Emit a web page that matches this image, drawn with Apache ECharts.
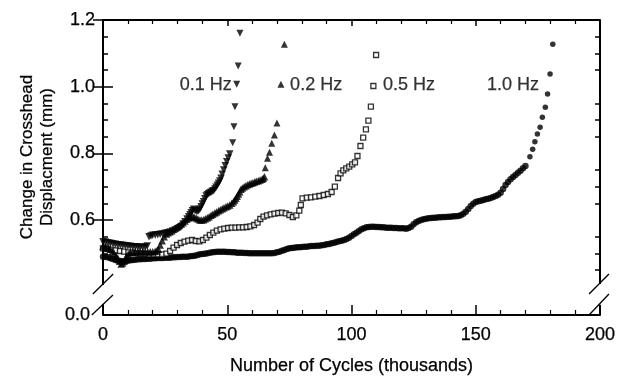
<!DOCTYPE html>
<html><head><meta charset="utf-8">
<script src="https://cdn.jsdelivr.net/npm/echarts@6/dist/echarts.min.js"></script>
<style>html,body{margin:0;padding:0;background:#fff}#c{width:627px;height:378px}</style>
</head><body><div id="c"></div>
<script>
const FONT = "'Liberation Sans', Arial, Helvetica, sans-serif";

// ---- data (x: thousands of cycles, y: change in crosshead displacement, mm) ----
const hz01 = [[0,0.535],[1,0.534],[2,0.532],[3,0.53],[4,0.529],[5,0.527],[6,0.526],[7,0.525],[8,0.524],[9,0.523],[10,0.522],[11,0.521],[12,0.52],[13,0.52],[14,0.519],[15,0.518],[16,0.518],[17,0.519],[17.8,0.522],
  [18.5,0.55],[19.3,0.552],[20,0.554],[21,0.555],[22,0.556],[23,0.557],[24,0.558],[25,0.56],[26,0.562],[27,0.564],[28,0.567],[29,0.57],[30,0.574],[30.8,0.577],[31.5,0.58],[32.3,0.588],[33,0.595],[33.8,0.603],[34.5,0.61],[35,0.616],[35.5,0.622],[36,0.628],[36.5,0.632],[37,0.629],[37.5,0.626],[38,0.627],[38.5,0.628],[39,0.633],[39.5,0.64],[40,0.648],[40.5,0.655],[41,0.664],[41.5,0.672],[42,0.676],[42.5,0.679],[43,0.681],[43.5,0.683],[44,0.686],[44.5,0.688],[45,0.693],[45.5,0.698],[46,0.704],[46.5,0.71],[47,0.717],[47.5,0.725],[48,0.737],[48.6,0.75],[49.2,0.763],[49.8,0.775],[50.4,0.786],[51,0.798],
  [52.2,0.832],[52.7,0.88],[53.1,0.94],[53.8,1.007],[54.4,1.062],[55.1,1.16]];
const hz02 = [[0,0.522],[0.8,0.52],[1.5,0.518],[2.3,0.515],[3,0.512],[3.8,0.506],[4.5,0.5],[5.3,0.492],[6,0.485],[6.7,0.476],[7.3,0.468],[7.9,0.471],[8.5,0.476],[9,0.484],[9.5,0.492],[10.2,0.498],[11,0.502],[12,0.504],[13,0.505],[14,0.505],[15,0.505],[16,0.505],[17,0.505],[18,0.505],[19,0.505],[20,0.505],[21,0.506],[21.7,0.508],[22.3,0.512],[23,0.525],[23.8,0.538],[24.6,0.55],[25.5,0.558],[26.2,0.562],[27,0.565],[27.7,0.568],[28.5,0.572],[29.2,0.576],[30,0.58],[30.7,0.584],[31.5,0.588],[32.2,0.592],[33,0.597],[33.7,0.602],[34.5,0.606],[35.2,0.609],[36,0.612],[36.7,0.609],[37.5,0.606],[38.2,0.603],[39,0.6],[39.7,0.6],[40.5,0.601],[41.2,0.604],[42,0.607],[42.7,0.61],[43.5,0.614],[44.2,0.617],[45,0.621],[45.7,0.624],[46.5,0.628],[47.2,0.631],[48,0.634],[48.7,0.637],[49.5,0.64],[50.2,0.642],[51,0.645],[51.8,0.65],[52.5,0.655],[53,0.66],[53.5,0.665],[54,0.671],[54.5,0.678],[55,0.685],[55.5,0.692],[56.1,0.696],[56.8,0.7],[57.5,0.703],[58.2,0.706],[58.9,0.708],[59.6,0.71],[60.3,0.712],[61,0.714],[61.7,0.716],[62.5,0.718],[63.2,0.72],[64,0.722],[64.5,0.725],[65,0.73],
  [65.3,0.757],[66.2,0.785],[67,0.803],[67.9,0.83],[69,0.855],[70,0.891],[71.6,1.007],[73,1.127]];
const hz05 = [[0,0.515],[1.7,0.513],[3.4,0.511],[5.1,0.509],[6.8,0.507],[8.5,0.505],[10.2,0.503],[11.9,0.502],[13.6,0.5],[15.3,0.499],[17,0.498],[18.7,0.497],[20.4,0.497],[22.1,0.497],[23.8,0.497],[25.5,0.499],[27,0.507],[28.4,0.517],[29.8,0.525],[31.3,0.531],[32.8,0.535],[34.3,0.538],[35.8,0.54],[37.3,0.537],[38.8,0.536],[40.2,0.54],[41.6,0.547],[43,0.555],[44.4,0.562],[45.8,0.568],[47.3,0.572],[48.8,0.574],[50.3,0.576],[51.8,0.577],[53.3,0.577],[54.8,0.578],[56.3,0.578],[57.8,0.579],[59.3,0.581],[60.8,0.585],[62.2,0.592],[63.3,0.603],[64.6,0.61],[66,0.614],[67.5,0.617],[69,0.619],[70.5,0.621],[72,0.622],[73.5,0.62],[75,0.615],[76.4,0.609],[77.8,0.614],[79,0.628],[79.6,0.645],[80.3,0.665],[82,0.667],[83.7,0.668],[85.4,0.67],[87.1,0.672],[88.8,0.675],[90.5,0.678],[92,0.684],[93.3,0.7],[94.6,0.726],[95.6,0.74],[96.7,0.749],[97.9,0.755],[99.1,0.76],[100.3,0.767],[101.4,0.773],[102.4,0.792],[103.6,0.822],[104.7,0.847],[105.8,0.872],[106.8,0.898],[107.8,0.94],[108.8,1.002],[109.9,1.095]];
const hz10 = [[0,0.49],[1,0.489],[2,0.488],[3,0.485],[4,0.483],[5,0.48],[6,0.478],[7,0.477],[8,0.476],[9,0.477],[10,0.478],[11,0.479],[12,0.48],[13,0.481],[14,0.482],[15,0.482],[16,0.483],[17,0.483],[18,0.484],[19,0.484],[20,0.485],[21,0.485],[22,0.486],[23,0.486],[24,0.486],[25,0.487],[26,0.487],[27,0.487],[28,0.488],[29,0.488],[30,0.489],[31,0.489],[32,0.49],[33,0.49],[34,0.49],[35,0.491],[36,0.492],[37,0.493],[38,0.495],[39,0.497],[40,0.498],[41,0.499],[42,0.5],[43,0.502],[44,0.503],[45,0.504],[46,0.505],[47,0.505],[48,0.505],[49,0.505],[50,0.504],[51,0.504],[52,0.503],[53,0.503],[54,0.502],[55,0.502],[56,0.502],[57,0.501],[58,0.501],[59,0.5],[60,0.5],[61,0.5],[62,0.5],[63,0.5],[64,0.5],[65,0.5],[66,0.5],[67,0.5],[68,0.5],[69,0.501],[70,0.503],[71,0.505],[72,0.508],[73,0.51],[74,0.513],[75,0.515],[76,0.516],[77,0.517],[78,0.518],[79,0.518],[80,0.519],[81,0.52],[82,0.52],[83,0.521],[84,0.522],[85,0.522],[86,0.523],[87,0.523],[88,0.524],[89,0.525],[90,0.527],[91,0.528],[92,0.53],[93,0.532],[94,0.534],[95,0.536],[96,0.538],[97,0.54],[98,0.543],[99,0.547],[100,0.552],[101,0.557],[102,0.562],[103,0.567],[104,0.572],[105,0.575],[106,0.578],[107,0.579],[108,0.58],[109,0.58],[110,0.579],[111,0.579],[112,0.578],[113,0.578],[114,0.577],[115,0.577],[116,0.577],[117,0.576],[118,0.576],[119,0.575],[120,0.575],[121,0.575],[122,0.574],[123,0.576],[124,0.58],[125,0.587],[126,0.593],[127,0.597],[128,0.6],[129,0.602],[130,0.604],[131,0.605],[132,0.606],[133,0.607],[134,0.607],[135,0.608],[136,0.608],[137,0.609],[138,0.609],[139,0.61],[140,0.61],[141,0.611],[142,0.611],[143,0.612],[144,0.614],[145,0.619],[146,0.625],[147,0.633],[148,0.642],[149,0.649],[150,0.654],[151,0.656],[152,0.658],[153,0.66],[154,0.662],[155,0.664],[156,0.666],[157,0.669],[158,0.672],[159,0.676],[160,0.682],[161,0.693],[162,0.705],[163,0.714],[164,0.722],[165,0.729],[166,0.735],[167,0.742],[168,0.748],[169,0.755],[170,0.762],
  [171.8,0.79],[172.9,0.812],[173.8,0.835],[174.8,0.858],[175.9,0.878],[176.8,0.908],[178,0.938],[178.9,0.978],[179.9,1.038],[181,1.127]];

const annotLabels = ['0.1 Hz','0.2 Hz','0.5 Hz','1.0 Hz'];
const annotX = [51.8, 75.3, 112.7, 175.5];
const annotY = [1.005, 1.005, 1.005, 1.005];
const annotSide = ['left','right','right','left'];

const xMin = 0, xMax = 200, xInterval = 50;
const yMin = 0.315, yMax = 1.2;           // broken axis: bottom edge stands for 0.0
const yLabelValues = [0.315, 0.6, 0.8, 1.0, 1.2];
const yMajorTicks = [0.6, 0.8, 1.0, 1.2];
const yMinorTicks = [0.45,0.5,0.55,0.65,0.7,0.75,0.85,0.9,0.95,1.05,1.1,1.15];

const chart = echarts.init(document.getElementById('c'), null, {renderer:'canvas'});
const black = '#000';
const txt = {color:black, fontSize:18, fontFamily:FONT, textBorderColor:black, textBorderWidth:0.25};
function yAx(pos, ticks, len, labels) {
  return {
    type:'value', min:yMin, max:yMax, position:pos,
    axisLine:{show:false}, splitLine:{show:false},
    axisTick:{show:true, inside:true, length:len, customValues:ticks, lineStyle:{color:black, width:1.5}},
    axisLabel: labels ? Object.assign({show:true, customValues:yLabelValues, margin:8,
      formatter: v => v < 0.4 ? '{z|0.0}' : v.toFixed(1),
      rich:{z:Object.assign({padding:[0,5,0,0]}, txt)}}, txt) : {show:false}
  };
}
function xAx(pos, len, mlen, labels) {
  return {
    type:'value', min:xMin, max:xMax, interval:xInterval, position:pos,
    axisLine:{show:true, onZero:false, lineStyle:{color:black, width:2}},
    splitLine:{show:false},
    axisTick:{show:true, inside:true, length:len, lineStyle:{color:black, width:1.5}},
    minorTick:{show:true, splitNumber:5, length:mlen, lineStyle:{color:black, width:1.2}},
    axisLabel: labels ? Object.assign({show:true, margin:11}, txt) : {show:false},
    name: labels ? 'Number of Cycles (thousands)' : '',
    nameLocation:'middle', nameGap:42,
    nameTextStyle: txt
  };
}
const annotData = annotLabels.map((t,i)=>({value:[annotX[i], annotY[i]], name:t,
  label:Object.assign({show:true, position:annotSide[i], distance:0, formatter:t}, txt)}));

// marker size: slightly larger where the record is dense (merged band), smaller for the sparse tail
const sizeBy = (limit, dense, sparse) => (v => v[0] <= limit ? dense : sparse);

chart.setOption({
  animation:false,
  backgroundColor:'#fff',
  grid:{left:103, right:27, top:20, bottom:63, outerBoundsMode:'none'},
  xAxis:[xAx('bottom',10,5,true), xAx('top',6,4,false)],
  yAxis:[yAx('left',yMajorTicks,10,true), yAx('right',yMajorTicks,10,false),
         yAx('left',yMinorTicks,5,false), yAx('right',yMinorTicks,5,false)],
  series:[
    {name:'1.0 Hz', type:'scatter', data:hz10, symbol:'circle', symbolSize:sizeBy(170.5,6.5,5.5), itemStyle:{color:black}},
    {name:'0.5 Hz', type:'scatter', data:hz05, symbol:'rect', symbolSize:5, itemStyle:{color:'#fff', borderColor:black, borderWidth:1.3}},
    {name:'0.2 Hz', type:'scatter', data:hz02, symbol:'triangle', symbolSize:sizeBy(65.1,7.5,7), itemStyle:{color:black}},
    {name:'0.1 Hz', type:'scatter', data:hz01, symbol:'triangle', symbolRotate:180, symbolSize:sizeBy(51.5,7.5,7), itemStyle:{color:black}},
    {name:'labels', type:'scatter', data:annotData, symbolSize:0, silent:true}
  ]
});

// broken-axis decorations (axis segments and slashes), placed in data space
const P = (x,y) => chart.convertToPixel({xAxisIndex:0, yAxisIndex:0}, [x,y]);
const segs = [
  [[0,yMax],[0,0.405],2], [[0,0.347],[0,yMin],2],
  [[200,yMax],[200,0.408],2], [[200,0.346],[200,yMin],2],
  [[-4.1,0.378],[4.1,0.438],1.3], [[-4.5,yMin],[4.0,0.375],1.3],
  [[195.6,0.378],[203.6,0.438],1.3], [[195.6,yMin],[203.6,0.378],1.3]
];
const g = segs.map(s => {
  const a = P(s[0][0], s[0][1]), b = P(s[1][0], s[1][1]);
  return {type:'line', shape:{x1:a[0], y1:a[1], x2:b[0], y2:b[1]}, style:{stroke:black, lineWidth:s[2]}, z:10};
});
g.push({type:'text', x:37, y:157, rotation:Math.PI/2,
  style:{text:'Change in Crosshead\nDisplacment (mm)', fill:black, stroke:black, lineWidth:0.25, font:'17px ' + FONT, align:'center', verticalAlign:'middle', lineHeight:20}});
chart.setOption({graphic:g});
</script></body></html>
